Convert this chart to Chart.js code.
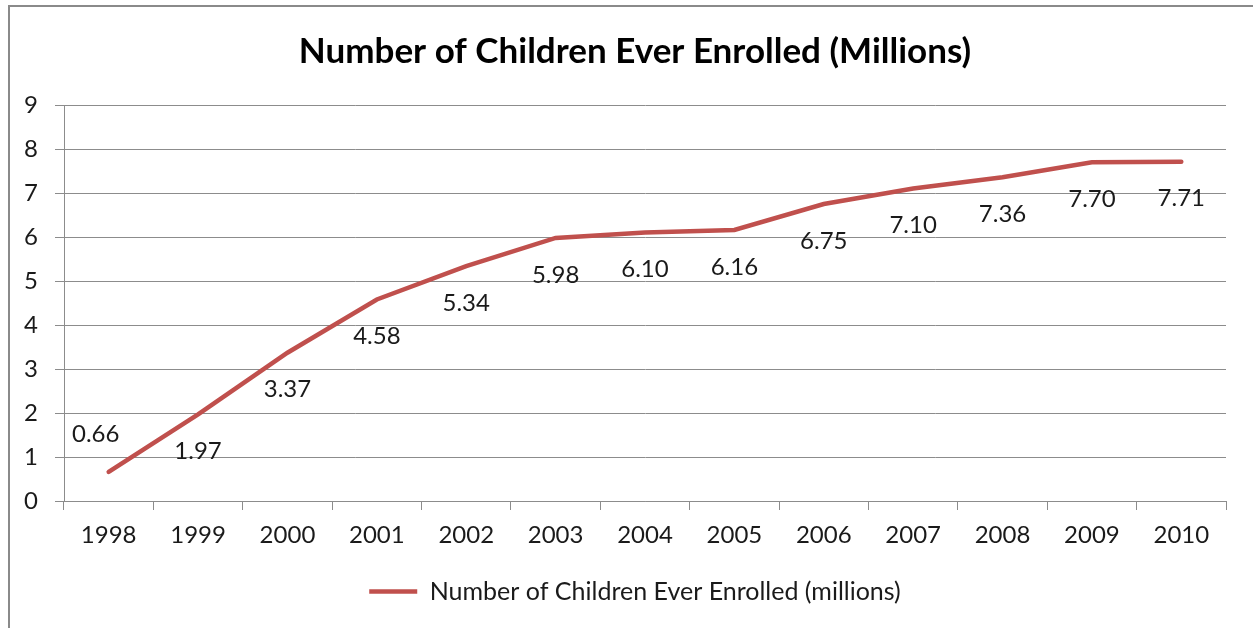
<!DOCTYPE html>
<html>
<head>
<meta charset="utf-8">
<script src="https://cdn.jsdelivr.net/npm/chart.js@4/dist/chart.umd.min.js"></script>
<style>
  html, body { margin: 0; padding: 0; background: #fff; overflow: hidden; }
  #wrap { position: relative; width: 1253px; height: 628px; }
</style>
</head>
<body>
<div id="wrap"><canvas id="enrolChart" width="1253" height="628"></canvas></div>
<script>
// data
const years = ['1998','1999','2000','2001','2002','2003','2004','2005','2006','2007','2008','2009','2010'];
const enrolled = [0.66, 1.97, 3.37, 4.58, 5.34, 5.98, 6.10, 6.16, 6.75, 7.10, 7.36, 7.70, 7.71];
const yTicks = [0, 1, 2, 3, 4, 5, 6, 7, 8, 9];

const FONT = 'Lato, "Open Sans", sans-serif';
const RED = '#C0504D';
const GRID = '#8c8c8c';

// outer chart frame (only left + top edges are visible in the picture)
const framePlugin = {
  id: 'frame',
  beforeDraw(chart) {
    const ctx = chart.ctx;
    ctx.save();
    ctx.strokeStyle = '#8a8a8a';
    ctx.lineWidth = 2;
    ctx.beginPath();
    ctx.moveTo(9, chart.height + 5);
    ctx.lineTo(9, 6);
    ctx.lineTo(chart.width + 5, 6);
    ctx.stroke();
    ctx.restore();
  }
};

// value labels under each point (first one sits above, to the left)
const labelPlugin = {
  id: 'valueLabels',
  afterDatasetsDraw(chart) {
    const ctx = chart.ctx;
    const meta = chart.getDatasetMeta(0);
    ctx.save();
    ctx.font = '24px ' + FONT;
    ctx.fillStyle = '#1a1a1a';
    ctx.textAlign = 'center';
    ctx.textBaseline = 'middle';
    meta.data.forEach((pt, i) => {
      const txt = enrolled[i].toFixed(2);
      if (i === 0) {
        ctx.fillText(txt, pt.x - 13, pt.y - 38);
      } else {
        ctx.fillText(txt, pt.x, pt.y + 37);
      }
    });
    ctx.restore();
  }
};

new Chart(document.getElementById('enrolChart').getContext('2d'), {
  type: 'line',
  data: {
    labels: years,
    datasets: [{
      label: 'Number of Children Ever Enrolled (millions)',
      data: enrolled,
      borderColor: RED,
      backgroundColor: RED,
      borderWidth: 4.5,
      pointRadius: 0,
      pointStyle: 'line',
      tension: 0,
      borderCapStyle: 'round'
    }]
  },
  options: {
    responsive: false,
    animation: false,
    // left padding keeps title/legend centred like the original
    layout: { padding: { left: 17, right: 0, top: 0, bottom: 14 } },
    plugins: {
      title: {
        display: true,
        text: 'Number of Children Ever Enrolled (Millions)',
        color: '#000',
        font: { family: FONT, size: 35, weight: 'bold' },
        padding: { top: 31, bottom: 32 }
      },
      legend: {
        position: 'bottom',
        labels: {
          usePointStyle: true,
          pointStyleWidth: 48,
          boxHeight: 10,
          color: '#1a1a1a',
          font: { family: FONT, size: 25 },
          padding: 10
        }
      },
      tooltip: { enabled: false }
    },
    scales: {
      x: {
        offset: true,
        grid: {
          offset: true,
          drawOnChartArea: false,
          drawTicks: true,
          tickLength: 9,
          color: GRID
        },
        border: { display: true, color: GRID, width: 1 },
        ticks: {
          color: '#1a1a1a',
          font: { family: FONT, size: 24 },
          padding: 11,
          maxRotation: 0
        },
        afterFit(scale) { scale.height = 68; }
      },
      y: {
        min: 0,
        max: 9,
        afterBuildTicks(scale) { scale.ticks = yTicks.map(v => ({ value: v })); },
        grid: {
          color: GRID,
          drawTicks: true,
          tickLength: 9
        },
        border: { display: true, color: GRID, width: 1 },
        ticks: {
          color: '#1a1a1a',
          font: { family: FONT, size: 24 },
          padding: 17
        },
        afterFit(scale) { scale.width = 47; }
      },
      // empty spacer on the right so the plot ends where the original does
      spacer: {
        type: 'linear',
        position: 'right',
        grid: { display: false },
        border: { display: false },
        ticks: { display: false },
        afterFit(scale) { scale.width = 27; }
      }
    }
  },
  plugins: [framePlugin, labelPlugin]
});
</script>
</body>
</html>
